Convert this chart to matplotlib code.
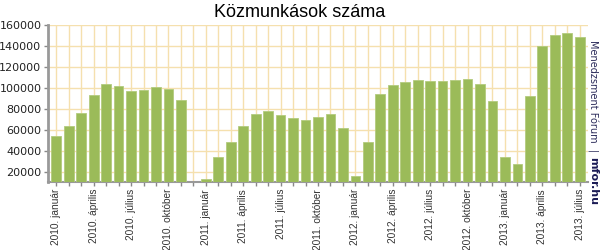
import numpy as np
import matplotlib
matplotlib.use("Agg")
import matplotlib.pyplot as plt

years = [2010, 2011, 2012, 2013]
month_names = ["január", "február", "március", "április", "május", "június",
               "július", "augusztus", "szeptember", "október", "november", "december"]

values = [
    # 2010
    53600, 63200, 76300, 92900, 104100, 101500, 97100, 97700, 101200, 99300, 88700, np.nan,
    # 2011
    13300, 33800, 47900, 63800, 74700, 77900, 73700, 71200, 69300, 72100, 74700, 61300,
    # 2012
    16200, 47900, 93900, 102500, 105400, 107900, 106600, 106600, 107300, 108200, 103400, 87800,
    # 2013
    34100, 27400, 92300, 139900, 150100, 152000, 148200,
]

categories = [f"{y}. {m}" for y in years for m in month_names][:len(values)]
yticks = [20000, 40000, 60000, 80000, 100000, 120000, 140000, 160000]

title = "Közmunkások száma"
credit_1 = "Menedzsment Fórum  |"
credit_2 = "mfor.hu"

fig = plt.figure(figsize=(6, 2.5), dpi=100)
ax = fig.add_axes([0.0805, 0.272, 0.899, 0.628])

x = np.arange(len(values))
ax.bar(x, values, width=0.78, bottom=0, color="#9BBB59", edgecolor="#B3CB7E",
       linewidth=0.6, zorder=3)

ax.set_xlim(-0.64, len(values) - 1 + 0.64)
ax.set_ylim(10000, 160000)

grid_c = "#F5E0AE"
ax.set_yticks(yticks)
ax.set_yticklabels([str(v) for v in yticks], fontsize=8, family="DejaVu Sans", color="#222222")
ax.set_xticks(x, minor=True)
major = x[::3]
ax.set_xticks(major)
ax.set_xticklabels([categories[i] for i in major], rotation=90, fontsize=7.3,
                   family="Liberation Sans", color="#333333")
ax.tick_params(axis="x", which="both", length=3, width=1, color="#888888", pad=2)
ax.tick_params(axis="y", length=3, width=1, color="#888888", pad=2)

ax.grid(True, which="minor", axis="x", color=grid_c, linewidth=1, zorder=0)
ax.grid(True, which="major", axis="x", color=grid_c, linewidth=1, zorder=0)
ax.grid(True, axis="y", color=grid_c, linewidth=1, zorder=0)

for s in ["top", "right"]:
    ax.spines[s].set_visible(False)
ax.spines["left"].set_color("#999999")
ax.spines["left"].set_linewidth(2)
ax.spines["bottom"].set_color("#999999")
ax.spines["bottom"].set_linewidth(1.5)

fig.text(0.5, 0.95, title, ha="center", va="center", fontsize=13,
         family="Liberation Sans", color="#000000")

t1 = fig.text(0.988, 0.84, credit_1, rotation=270, ha="center", va="top",
              fontsize=7, family="DejaVu Sans", color="#2B2B5A")
fig.canvas.draw()
bb = t1.get_window_extent(renderer=fig.canvas.get_renderer())
y_next = (bb.y0 - 5) / fig.bbox.height
fig.text(0.988, y_next, credit_2, rotation=270, ha="center", va="top",
         fontsize=8, fontweight="bold", family="DejaVu Sans", color="#1B1B55")

fig.savefig("out.png", dpi=100)
